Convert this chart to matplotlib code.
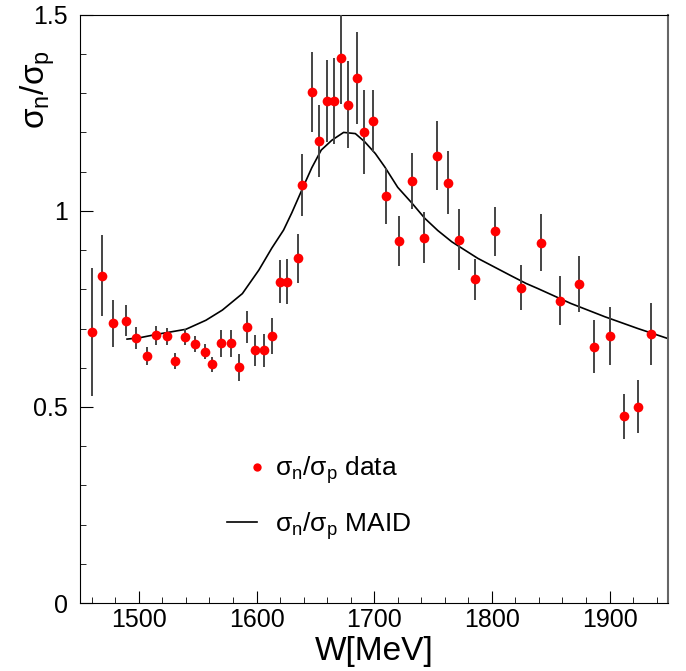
import numpy as np
import matplotlib
matplotlib.use('Agg')
import matplotlib.pyplot as plt
from matplotlib.lines import Line2D
from matplotlib.legend_handler import HandlerLine2D
from matplotlib.ticker import MultipleLocator

plt.rcParams['font.family'] = ['Liberation Sans', 'DejaVu Sans']

# measured ratio sigma_n / sigma_p
w_data = [1460, 1469, 1478, 1489, 1498, 1507, 1515, 1524, 1531, 1539,
          1548, 1556, 1562, 1570, 1578, 1585, 1592, 1599, 1606, 1613,
          1620, 1626, 1635, 1639, 1647, 1653, 1660, 1666, 1672, 1678,
          1685, 1691, 1699, 1710, 1721, 1732, 1742, 1753, 1763, 1772,
          1786, 1803, 1825, 1842, 1858, 1874, 1887, 1900, 1912, 1924,
          1935]
ratio = [0.691, 0.835, 0.713, 0.720, 0.676, 0.630, 0.683, 0.680, 0.618, 0.678,
         0.660, 0.641, 0.609, 0.662, 0.662, 0.601, 0.704, 0.644, 0.644, 0.682,
         0.819, 0.819, 0.879, 1.067, 1.303, 1.178, 1.280, 1.280, 1.391, 1.271,
         1.339, 1.200, 1.229, 1.038, 0.923, 1.076, 0.931, 1.141, 1.072, 0.926,
         0.825, 0.948, 0.804, 0.919, 0.771, 0.813, 0.654, 0.681, 0.476, 0.501,
         0.686]
ratio_err = [0.164, 0.103, 0.060, 0.039, 0.029, 0.024, 0.024, 0.021, 0.020, 0.021,
             0.020, 0.020, 0.019, 0.034, 0.034, 0.034, 0.040, 0.040, 0.042, 0.046,
             0.055, 0.057, 0.063, 0.079, 0.101, 0.092, 0.105, 0.110, 0.119, 0.110,
             0.118, 0.107, 0.079, 0.072, 0.063, 0.071, 0.065, 0.087, 0.081, 0.078,
             0.053, 0.062, 0.057, 0.073, 0.062, 0.072, 0.067, 0.073, 0.058, 0.067,
             0.080]

# MAID prediction
w_maid = [1490, 1500, 1515, 1540, 1557, 1571, 1588, 1602, 1613, 1623,
          1630, 1641, 1647, 1655, 1664, 1674, 1684, 1692, 1701, 1709,
          1720, 1732, 1743, 1754, 1766, 1777, 1788, 1802, 1816, 1829,
          1839, 1867, 1896, 1924, 1950]
ratio_maid = [0.673, 0.676, 0.685, 0.698, 0.721, 0.747, 0.789, 0.849, 0.905, 0.951,
              0.995, 1.070, 1.110, 1.155, 1.180, 1.200, 1.197, 1.176, 1.146, 1.112,
              1.060, 1.020, 0.981, 0.950, 0.921, 0.900, 0.879, 0.857, 0.835, 0.815,
              0.802, 0.764, 0.730, 0.700, 0.674]

label_data = r'$\mathregular{σ_n/σ_p}$ data'
label_maid = r'$\mathregular{σ_n/σ_p}$ MAID'


class HandlerDotRight(HandlerLine2D):
    # single marker at the right end of the handle box
    def get_xdata(self, legend, xdescent, ydescent, width, height, fontsize):
        x = width - xdescent
        return np.array([x - 1, x + 1]), np.array([x])


fig = plt.figure(figsize=(6.86, 6.71), dpi=100)
ax = fig.add_axes([0.1166, 0.1013, 0.8577, 0.8767])

ax.errorbar(w_data, ratio, yerr=ratio_err, fmt='o', color='red', ms=7,
            mec='none', ecolor='#444444', elinewidth=1.4, capsize=0, zorder=3)
ax.plot(w_maid, ratio_maid, color='black', lw=1.2, zorder=2)

ax.set_xlim(1450, 1950)
ax.set_ylim(0, 1.5)
ax.xaxis.set_major_locator(MultipleLocator(100))
ax.xaxis.set_minor_locator(MultipleLocator(20))
ax.yaxis.set_minor_locator(MultipleLocator(0.1))
ax.set_yticks([0, 0.5, 1, 1.5], ['0', '0.5', '1', '1.5'])
ax.tick_params(which='both', direction='in', top=False, right=False,
               labelsize=18)
ax.tick_params(which='major', length=9)
ax.tick_params(which='minor', length=4.5)
ax.tick_params(axis='x', pad=3.5)
ax.tick_params(axis='y', pad=8.5)
ax.spines['right'].set_color('#666666')
ax.spines['right'].set_linewidth(1.5)

ax.set_xlabel('W[MeV]', fontsize=24, labelpad=3)
ax.set_ylabel(r'$\mathregular{σ_n/σ_p}$', fontsize=24, loc='top')
ax.yaxis.set_label_coords(-0.039, 0.94)

h_data = Line2D([], [], ls='none', marker='o', color='red', mec='none', ms=6)
h_maid = Line2D([], [], color='black', lw=1.2)
ax.legend([h_data, h_maid], [label_data, label_maid],
          handler_map={h_data: HandlerDotRight()},
          frameon=False, loc='center left', bbox_to_anchor=(0.2496, 0.178),
          fontsize=19, handlelength=1.15, handletextpad=0.68,
          labelspacing=0.9, borderaxespad=0, borderpad=0)

fig.savefig('out.png', dpi=100)
